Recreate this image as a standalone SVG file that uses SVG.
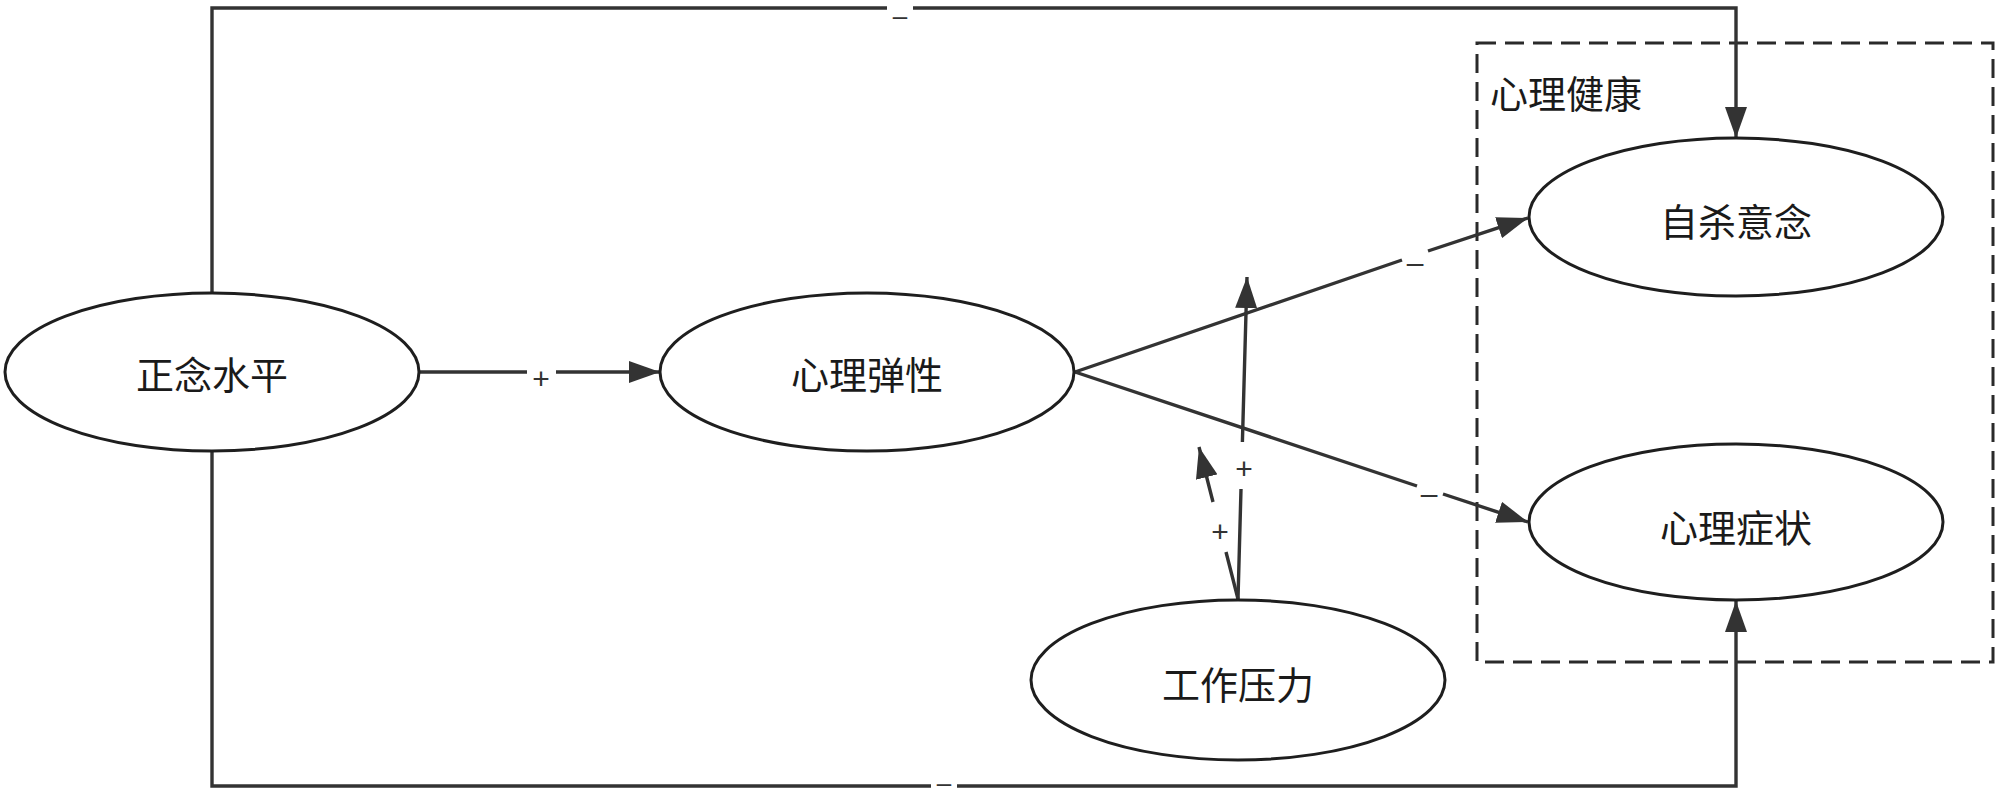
<svg xmlns="http://www.w3.org/2000/svg" width="2000" height="798" viewBox="0 0 2000 798">
<style>
.node ellipse{fill:#fff;stroke:#1e1e1e;stroke-width:3}
.node text{font-family:"Noto Sans CJK SC","Noto Sans",sans-serif;font-size:38px;fill:#1a1a1a;text-anchor:middle;dominant-baseline:central}
.conn{fill:none;stroke:#333;stroke-width:3.4}
.lbl{font-family:"Liberation Sans",Arial,sans-serif;font-size:30px;fill:#333;text-anchor:middle;dominant-baseline:central}
.edge{font-size:26px}
.grp{fill:none;stroke:#2a2a2a;stroke-width:3;stroke-dasharray:19 9}
.grptext{font-family:"Noto Sans CJK SC","Noto Sans",sans-serif;font-size:38px;fill:#1a1a1a}
</style>
<defs>
<marker id="arr" markerUnits="userSpaceOnUse" markerWidth="32" markerHeight="22" refX="31" refY="11" orient="auto">
<path d="M0,0 L31,11 L0,22 z" fill="#333"/>
</marker>
</defs>
<rect width="2000" height="798" fill="#fff"/>
<g id="group-mental-health">
<rect class="grp" x="1477" y="43" width="516" height="619"/>
<text class="grptext" x="1490" y="108">心理健康</text>
</g>
<g id="connectors">
<path class="conn" d="M212,293 V8 H887 M913,8 H1736 V138" marker-end="url(#arr)"/>
<path class="conn" d="M212,451 V786 H931 M957,786 H1736 V601" marker-end="url(#arr)"/>
<path class="conn" d="M418,372 H527 M556,372 H660" marker-end="url(#arr)"/>
<path class="conn" d="M1075,372 L1402,260 M1428,251 L1528,218" marker-end="url(#arr)"/>
<path class="conn" d="M1075,372 L1417,486 M1443,494 L1528,522" marker-end="url(#arr)"/>
<path class="conn" d="M1238,599 L1241,489 M1242.4,442 L1247,277" marker-end="url(#arr)"/>
<path class="conn" d="M1238,599 L1226,552 M1213,502 L1199,447" marker-end="url(#arr)"/>
<text class="lbl edge" x="900" y="16">–</text>
<text class="lbl edge" x="944" y="783">–</text>
<text class="lbl" x="541" y="378">+</text>
<text class="lbl" x="1415" y="262">–</text>
<text class="lbl" x="1429" y="493">–</text>
<text class="lbl" x="1244" y="468">+</text>
<text class="lbl" x="1220" y="531">+</text>
</g>
<g id="node-mindfulness" class="node">
<ellipse cx="212" cy="372" rx="207" ry="79"/>
<text x="212" y="372">正念水平</text>
</g>
<g id="node-resilience" class="node">
<ellipse cx="867" cy="372" rx="207" ry="79"/>
<text x="867" y="372">心理弹性</text>
</g>
<g id="node-suicidal" class="node">
<ellipse cx="1736" cy="217" rx="207" ry="79"/>
<text x="1736" y="219">自杀意念</text>
</g>
<g id="node-symptoms" class="node">
<ellipse cx="1736" cy="522" rx="207" ry="78"/>
<text x="1736" y="525">心理症状</text>
</g>
<g id="node-stress" class="node">
<ellipse cx="1238" cy="680" rx="207" ry="80"/>
<text x="1238" y="682">工作压力</text>
</g>
</svg>
